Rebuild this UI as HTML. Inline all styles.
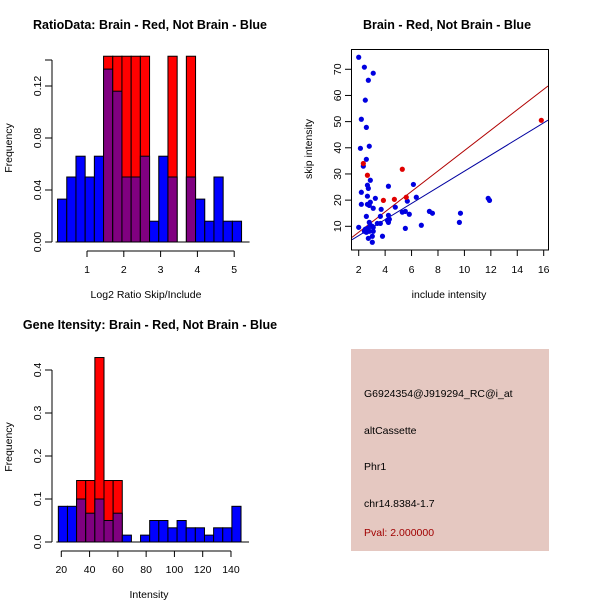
<!DOCTYPE html>
<html><head><meta charset="utf-8"><style>
body{margin:0;background:#fff;}
svg{display:block;font-family:"Liberation Sans",sans-serif;}
.t{font-weight:bold;font-size:12.5px;}
.l{font-size:10.5px;}
</style></head><body>
<svg id="c" width="600" height="600" xmlns="http://www.w3.org/2000/svg">
<text class="t" x="150" y="29" text-anchor="middle">RatioData: Brain - Red, Not Brain - Blue</text>
<text class="t" x="447" y="29" text-anchor="middle">Brain - Red, Not Brain - Blue</text>
<text class="t" x="150" y="329" text-anchor="middle">Gene Itensity: Brain - Red, Not Brain - Blue</text>
<text class="l" x="146" y="298" text-anchor="middle">Log2 Ratio Skip/Include</text>
<text class="l" transform="translate(12,148) rotate(-90)" text-anchor="middle">Frequency</text>
<text class="l" x="449" y="298" text-anchor="middle">include intensity</text>
<text class="l" transform="translate(312,149) rotate(-90)" text-anchor="middle">skip intensity</text>
<text class="l" x="149" y="598" text-anchor="middle">Intensity</text>
<text class="l" transform="translate(12,447) rotate(-90)" text-anchor="middle">Frequency</text>
<g>
<rect x="351" y="349" width="198" height="202" fill="#e5c8c1"/>
<text class="l" x="364" y="397">G6924354@J919294_RC@i_at</text>
<text class="l" x="364" y="434">altCassette</text>
<text class="l" x="364" y="470">Phr1</text>
<text class="l" x="364" y="507">chr14.8384-1.7</text>
<text class="l" x="364" y="536" fill="#a00000">Pval: 2.000000</text>
</g>
</svg>
<script>
// Ratio histogram data
const ratioStart = 0.2, ratioWidth = 0.25;
const ratioBlue = [0.033,0.05,0.066,0.05,0.066,0.133,0.116,0.05,0.05,0.066,0.016,0.066,0.05,0,0.05,0.033,0.016,0.05,0.016,0.016];
const ratioRed  = [0,0,0,0,0,0.1429,0.1429,0.1429,0.1429,0.1429,0,0,0.1429,0,0.1429,0,0,0,0,0];
const ratioXTicks = [1,2,3,4,5];
const ratioYTicks = ["0.00","0.04","0.08","0.12",""];
// Intensity histogram data
const intStart = 17.9, intWidth = 6.46;
const intBlue = [0.083,0.083,0.1,0.067,0.1,0.05,0.067,0.016,0,0.016,0.05,0.05,0.033,0.05,0.033,0.033,0.016,0.033,0.033,0.083];
const intRed  = [0,0,0.143,0.143,0.429,0.143,0.143,0,0,0,0,0,0,0,0,0,0,0,0,0];
const intXTicks = [20,40,60,80,100,120,140];
const intYTicks = ["0.0","0.1","0.2","0.3","0.4"];
// Scatter data
const blueX = [2,2.43,3.1,2.73,2.5,2.2,2.58,2.13,2.8,2.58,2.35,2.88,2.66,2.73,2.2,2.66,3.26,4.25,6.14,6.36,5.68,2.2,2.66,2.88,2.8,4.77,3.1,3.7,2.58,3.64,4.25,5.3,5.53,5.83,7.35,7.58,9.7,9.62,11.8,11.9,6.74,5.53,3.41,3.64,4.17,4.32,4.25,2.8,2.88,3.03,3.1,2,2.5,2.66,2.43,2.8,3.1,3.8,3.03,2.73,3.03,2.58];
const blueY = [74.6,70.8,68.5,65.8,58.2,50.9,47.8,39.8,40.6,35.6,33,27.6,25.7,24.5,23,21.5,20.7,25.3,26,21.1,19.6,18.4,18.4,19.2,18,17.3,16.9,16.5,13.8,13.8,14.2,15.4,15.7,14.6,15.7,15,15,11.5,20.7,19.9,10.4,9.2,11.1,11.1,12.3,12.7,11.5,11.5,10.4,10,9.6,9.6,8.9,9.2,8.1,8.1,8.1,6.2,6.2,5.4,3.9,7.7];
const redX = [2.35,2.66,3.87,4.7,5.3,5.6,15.82];
const redY = [34,29.5,19.9,20.3,31.8,21.1,50.5];
const redFit = [-0.06,3.9];
const blueFit = [0.26,3.08];
const scatXTicks = [2,4,6,8,10,12,14,16];
const scatYTicks = [10,20,30,40,50,60,70];

const NS="http://www.w3.org/2000/svg", svg=document.getElementById('c');
function mk(tag,attrs,parent){const e=document.createElementNS(NS,tag);for(const k in attrs)e.setAttribute(k,attrs[k]);(parent||svg).appendChild(e);return e;}

function hist(name,start,width,blue,red,xs,ys,xTicks,yTicks,yTickVals,axisY,xTickY){
  const g=mk('g',{});
  
  
  for(let i=0;i<red.length;i++){
    const x0=xs(start+i*width),x1=xs(start+(i+1)*width);
    const hb=blue[i],hr=red[i];
    if(hr>0){
      const r=mk('rect',{x:x0,y:ys(hr),width:x1-x0,height:ys(0)-ys(hr),fill:'#ff0000',stroke:'#000','stroke-width':1},g);
      
      
    }
    if(hb>0){
      const b=mk('rect',{x:x0,y:ys(hb),width:x1-x0,height:ys(0)-ys(hb),fill:hr>0?'#800080':'#0000ff',stroke:'#000','stroke-width':1},g);
      
      
    }
  }
  const yTop=ys(yTickVals[yTickVals.length-1]);
  mk('line',{x1:52,x2:52,y1:ys(0),y2:yTop,stroke:'#000'},g);
  yTickVals.forEach((v,i)=>{
    mk('line',{x1:45,x2:52,y1:ys(v),y2:ys(v),stroke:'#000'},g);
    const t=mk('text',{transform:`translate(41,${ys(v)}) rotate(-90)`,'text-anchor':'middle','font-size':'10.5px'},g);
    t.textContent=yTicks[i];
    
    
  });
  mk('line',{x1:xs(start)-2,x2:xs(start+blue.length*width)+8,y1:ys(0),y2:ys(0),stroke:'#000'},g);
  mk('line',{x1:xs(xTicks[0]),x2:xs(xTicks[xTicks.length-1]),y1:axisY,y2:axisY,stroke:'#000'},g);
  xTicks.forEach(v=>{
    mk('line',{x1:xs(v),x2:xs(v),y1:axisY,y2:axisY+6,stroke:'#000'},g);
    const t=mk('text',{x:xs(v),y:xTickY,'text-anchor':'middle','font-size':'10.5px'},g);
    t.textContent=v;
    
    
  });
}
const rxs=v=>50.2+v*36.8, rys=v=>242-v*1300;
hist('ratio-histogram',ratioStart,ratioWidth,ratioBlue,ratioRed,rxs,rys,ratioXTicks,ratioYTicks,[0,0.04,0.08,0.12,0.14],251,273);
const ixs=v=>61.3+(v-20)*1.414, iys=v=>542-v*430;
hist('intensity-histogram',intStart,intWidth,intBlue,intRed,ixs,iys,intXTicks,intYTicks,[0,0.1,0.2,0.3,0.4],551,573);

const sx=v=>358.7+(v-2)*13.214, sy=v=>226.3-(v-10)*2.617;
const sg=mk('g',{});


mk('rect',{x:351.5,y:49.5,width:197,height:200.5,fill:'none',stroke:'#000'},sg);
scatXTicks.forEach(v=>{
  mk('line',{x1:sx(v),x2:sx(v),y1:250,y2:256,stroke:'#000'},sg);
  const t=mk('text',{x:sx(v),y:273,'text-anchor':'middle','font-size':'10.5px'},sg);
  t.textContent=v;
  
  
});
scatYTicks.forEach(v=>{
  mk('line',{x1:345,x2:351.5,y1:sy(v),y2:sy(v),stroke:'#000'},sg);
  const t=mk('text',{transform:`translate(341,${sy(v)}) rotate(-90)`,'text-anchor':'middle','font-size':'10.5px'},sg);
  t.textContent=v;
  
  
});
const clip=mk('clipPath',{id:'sc'},sg);mk('rect',{x:352,y:50,width:196,height:200},clip);
const x0=(352-358.7)/13.214+2, x1=(548-358.7)/13.214+2;
const rl=mk('line',{x1:sx(x0),y1:sy(redFit[0]+redFit[1]*x0),x2:sx(x1),y2:sy(redFit[0]+redFit[1]*x1),stroke:'#b00000','clip-path':'url(#sc)'},sg);


const bl=mk('line',{x1:sx(x0),y1:sy(blueFit[0]+blueFit[1]*x0),x2:sx(x1),y2:sy(blueFit[0]+blueFit[1]*x1),stroke:'#0000a0','clip-path':'url(#sc)'},sg);


blueX.forEach((v,i)=>{
  const c=mk('circle',{cx:sx(v),cy:sy(blueY[i]),r:2.6,fill:'#0000e0'},sg);
  
  
});
redX.forEach((v,i)=>{
  const c=mk('circle',{cx:sx(v),cy:sy(redY[i]),r:2.6,fill:'#e00000'},sg);
  
  
});
</script>
</body></html>
